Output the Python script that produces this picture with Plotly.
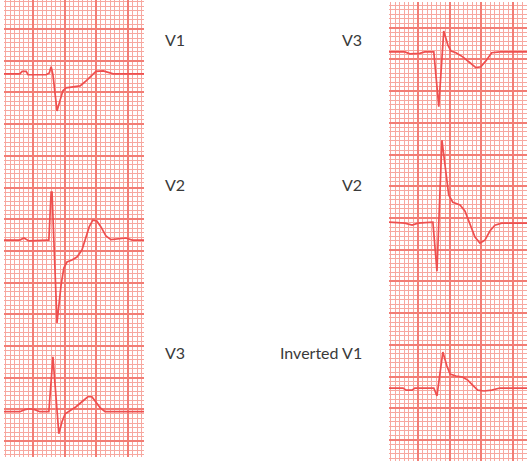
import plotly.graph_objects as go

# ECG traces: time and amplitude in small-grid-square units (relative to each strip baseline)
left_v1_t = [0, 3.5, 4.0, 4.9, 5.3, 9.3, 10.0, 10.4, 10.8, 11.7, 12.4, 13.0, 13.7, 15.0, 16.8, 17.9, 19.0, 20.3, 21.9, 23.0, 24.1, 30.9]
left_v1_a = [0, 0, 0.55, 0.55, -0.2, -0.2, 0.2, 1.55, -0.2, -8.2, -5.75, -3.75, -3.1, -2.9, -2.65, -1.75, -0.65, 0.55, 0.65, 0.35, 0, 0]

left_v2_t = [0, 3.5, 4.4, 5.5, 9.5, 9.9, 10.4, 10.6, 11.7, 12.1, 12.6, 13.2, 13.9, 15.0, 16.1, 17.2, 18.1, 18.8, 19.6, 20.5, 21.4, 22.5, 23.6, 25.2, 26.9, 28.3, 30.9]
left_v2_a = [0, 0, 0.45, -0.2, 0, 0, 10.6, 10.6, -18.3, -14.3, -9.9, -6.2, -4.85, -4.4, -3.75, -2.2, 0.45, 2.9, 4.4, 4.2, 2.9, 0.9, 0.1, 0.2, 0.45, 0, 0]

left_v3_t = [0, 3.5, 4.6, 5.7, 6.8, 7.9, 9.9, 10.8, 12.1, 12.8, 13.5, 14.6, 15.9, 17.2, 18.5, 19.4, 20.3, 21.2, 22.3, 30.9]
left_v3_a = [0, 0, 0.45, 0.65, 0.45, 0, 0, 12.1, -4.85, -2.2, -0.45, 0.2, 1.1, 2.2, 3.3, 3.3, 2.2, 0.9, 0, 0]

right_v3_t = [0, 3.5, 4.6, 6.8, 7.9, 9.9, 11.0, 12.1, 13.0, 13.7, 14.8, 16.3, 17.9, 19.2, 20.3, 21.4, 22.7, 24.5, 30.5]
right_v3_a = [0, 0, -0.45, -0.35, 0, 0, -12.1, 4.6, 1.55, 0.2, -0.2, -1.1, -2.4, -3.5, -3.3, -2.0, -0.2, 0, 0]

right_v2_t = [0, 3.5, 5.1, 6.4, 9.7, 10.6, 11.7, 12.6, 13.2, 14.1, 15.7, 16.8, 17.9, 19.0, 20.1, 21.2, 22.3, 23.4, 24.9, 30.5]
right_v2_a = [0.2, 0, -0.45, 0, 0.2, -10.6, 18.3, 10.6, 6.2, 4.6, 4.0, 2.65, -0.45, -3.1, -4.4, -3.75, -1.75, -0.45, 0, 0]

right_iv1_t = [0, 3.1, 3.8, 5.1, 5.7, 9.9, 10.6, 11.9, 12.8, 13.5, 14.8, 16.3, 17.4, 18.5, 19.6, 21.0, 22.7, 24.5, 30.5]
right_iv1_a = [0, 0, -0.45, -0.45, 0, 0, -1.75, 7.95, 4.85, 3.1, 2.65, 2.4, 1.75, 0.65, -0.45, -0.65, -0.45, 0, 0]

left_labels = ["V1", "V2", "V3"]
right_labels = ["V3", "V2", "Inverted V1"]
left_baselines = [-16.3, -53.0, -90.9]
right_baselines = [-11.0, -48.8, -85.2]

W, H = 527, 462
ecg_color = "#ee4f4f"
minor_col = "#f7a8a0"
major_col = "#f27d75"

fig = go.Figure()
left_series = [(left_v1_t, left_v1_a), (left_v2_t, left_v2_a), (left_v3_t, left_v3_a)]
right_series = [(right_v3_t, right_v3_a), (right_v2_t, right_v2_a), (right_iv1_t, right_iv1_a)]

for (t, a), b in zip(left_series, left_baselines):
    fig.add_trace(go.Scatter(x=t, y=[b + v for v in a], mode="lines",
                             line=dict(color=ecg_color, width=1.7), xaxis="x", yaxis="y",
                             hoverinfo="skip", showlegend=False))
for (t, a), b in zip(right_series, right_baselines):
    fig.add_trace(go.Scatter(x=t, y=[b + v for v in a], mode="lines",
                             line=dict(color=ecg_color, width=1.7), xaxis="x2", yaxis="y2",
                             hoverinfo="skip", showlegend=False))

def ax(domain, rng, tick0, anchor):
    return dict(domain=domain, range=rng, anchor=anchor, showticklabels=False, ticks="",
                zeroline=False, showline=False, fixedrange=True,
                showgrid=True, gridcolor=major_col, gridwidth=1.5, dtick=7, tick0=tick0,
                minor=dict(dtick=1, tick0=tick0, showgrid=True, gridcolor=minor_col, gridwidth=1.3))

fig.update_layout(
    width=W, height=H, margin=dict(l=0, r=0, t=0, b=0),
    paper_bgcolor="white", plot_bgcolor="white",
    xaxis=ax([4 / W, 144 / W], [0, 30.9], 6.4, "y"),
    yaxis=ax([5 / H, 1.0], [-100.9, 0], -6.4, "x"),
    xaxis2=ax([389 / W, 1.0], [0, 30.5], 6.4, "y2"),
    yaxis2=ax([1 / H, 1 - 2 / H], [-101.3, 0], -5.67, "x2"),
)

label_font = dict(family="Lato, 'Open Sans', sans-serif", size=16, color="#3a3a3a")
label_y = [40, 185, 352]
for txt, yy in zip(left_labels, label_y):
    fig.add_annotation(x=163 / W, y=1 - yy / H, xref="paper", yref="paper", text=txt,
                       showarrow=False, xanchor="left", yanchor="middle", font=label_font)
for txt, yy in zip(right_labels, label_y):
    fig.add_annotation(x=364 / W, y=1 - yy / H, xref="paper", yref="paper", text=txt,
                       showarrow=False, xanchor="right", yanchor="middle", font=label_font)

fig.write_html("out.html", config={"displayModeBar": False},
               post_script="document.body.style.margin='0';")
